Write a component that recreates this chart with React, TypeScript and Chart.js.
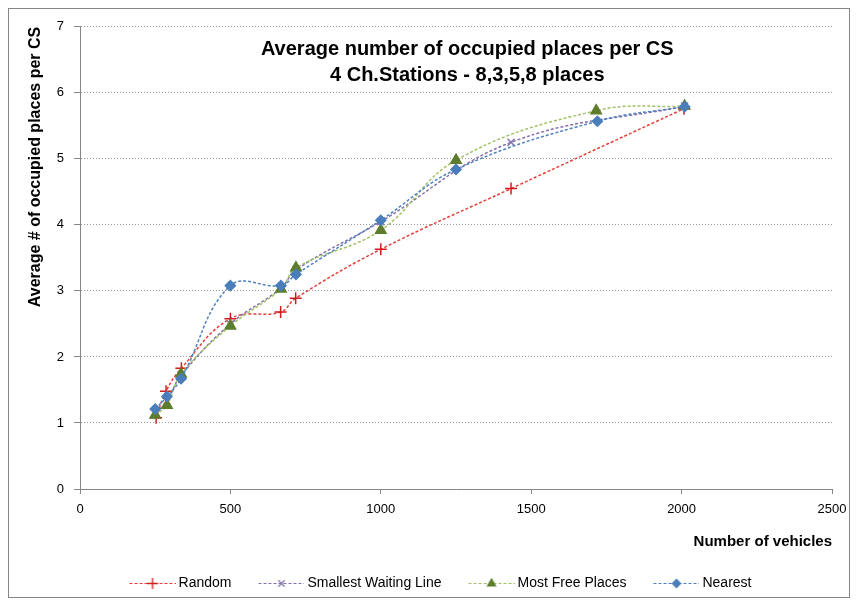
import React, { useEffect, useRef } from 'react';
import { Chart, registerables } from 'chart.js';
import { drawPoint } from 'chart.js/helpers';

Chart.register(...registerables);

// ---- data ----
const seriesNames = ['Random', 'Smallest Waiting Line', 'Most Free Places', 'Nearest'];

const randomX = [253, 286, 337, 500, 667, 717, 1000, 1433, 2008];
const randomY = [1.08, 1.48, 1.83, 2.58, 2.68, 2.89, 3.63, 4.55, 5.76];

const waitingX = [253, 289, 336, 500, 668, 718, 1000, 1433, 2010];
const waitingY = [1.15, 1.33, 1.72, 2.5, 3.04, 3.32, 4.05, 5.25, 5.8];

const freeX = [250, 289, 336, 500, 668, 718, 1000, 1250, 1716, 2010];
const freeY = [1.12, 1.27, 1.74, 2.47, 3.03, 3.35, 3.92, 4.98, 5.73, 5.8];

const nearestX = [250, 289, 336, 500, 668, 718, 1000, 1250, 1720, 2010];
const nearestY = [1.21, 1.4, 1.67, 3.08, 3.08, 3.25, 4.07, 4.84, 5.57, 5.79];

const xMin = 0;
const xMax = 2500;
const xStep = 500;
const yMin = 0;
const yMax = 7;
const yStep = 1;

const titleLines = ['Average number of occupied places per CS', '4 Ch.Stations - 8,3,5,8 places'];
const xTitle = 'Number of vehicles';
const yTitle = 'Average # of occupied places per CS';

const FONT = "'Liberation Sans', Arial, Helvetica, sans-serif";

const styles = [
  { line: '#e4403c', dash: [3, 2], marker: '#d01c1c', point: 'cross', radius: 6, legendRadius: 5.5 },
  { line: '#8570ac', dash: [3, 2], marker: '#8a78b0', point: 'crossRot', radius: 5, legendRadius: 4.5 },
  { line: '#a2c066', dash: [3, 2], marker: '#5d7d2c', point: 'triangle', radius: 6, legendRadius: 4.5 },
  { line: '#4f81bd', dash: [3, 2], marker: '#4a7ebb', point: 'rectRot', radius: 5, legendRadius: 4 },
];

const toPoints = (xs: number[], ys: number[]) => xs.map((x, i) => ({ x, y: ys[i] }));

function legendImage(idx: number): HTMLCanvasElement {
  const s = styles[idx];
  const c = document.createElement('canvas');
  c.width = 52;
  c.height = 14;
  const g = c.getContext('2d') as CanvasRenderingContext2D;
  g.strokeStyle = s.line;
  g.lineWidth = 1.2;
  g.setLineDash(s.dash);
  g.beginPath();
  g.moveTo(6, 7.5);
  g.lineTo(52, 7.5);
  g.stroke();
  g.setLineDash([]);
  g.strokeStyle = s.marker;
  g.fillStyle = s.marker;
  g.lineWidth = 1.3;
  drawPoint(g, { pointStyle: s.point as any, rotation: 0, radius: s.legendRadius, borderWidth: 1.3 } as any, 29, 7.5);
  return c;
}

const overlayTitle = {
  id: 'overlayTitle',
  afterDraw(chart: any) {
    const { ctx, chartArea } = chart;
    ctx.save();
    ctx.font = `bold 20px ${FONT}`;
    ctx.fillStyle = '#000';
    ctx.textAlign = 'center';
    ctx.textBaseline = 'alphabetic';
    const cx = chartArea.left + (chartArea.right - chartArea.left) * 0.515;
    ctx.fillText(titleLines[0], cx, chartArea.top + 28);
    ctx.fillText(titleLines[1], cx, chartArea.top + 54);
    ctx.restore();
  },
};

export default function App() {
  const ref = useRef<HTMLCanvasElement | null>(null);

  useEffect(() => {
    if (!ref.current) return;
    Chart.defaults.font.family = FONT;

    const data = [
      toPoints(randomX, randomY),
      toPoints(waitingX, waitingY),
      toPoints(freeX, freeY),
      toPoints(nearestX, nearestY),
    ];

    const datasets = data.map((d, i) => ({
      label: seriesNames[i],
      data: d,
      borderColor: styles[i].line,
      borderWidth: 1.5,
      borderDash: styles[i].dash,
      tension: 0.4,
      fill: false,
      pointStyle: styles[i].point,
      pointRadius: styles[i].radius,
      pointBorderColor: styles[i].marker,
      pointBackgroundColor: styles[i].marker,
      pointBorderWidth: 1.5,
      order: 4 - i,
    }));

    const legendItems = seriesNames.map((name, i) => ({
      text: name,
      pointStyle: legendImage(i),
      fillStyle: styles[i].marker,
      strokeStyle: styles[i].line,
      lineWidth: 0,
      hidden: false,
      datasetIndex: i,
      fontColor: '#000',
    }));

    const chart = new Chart(ref.current, {
      type: 'line',
      data: { datasets: datasets as any },
      plugins: [overlayTitle],
      options: {
        responsive: false,
        animation: false,
        layout: { padding: { left: 38, right: 17, top: 16, bottom: -3 } },
        plugins: {
          legend: {
            position: 'bottom',
            labels: {
              usePointStyle: true,
              pointStyleWidth: 44,
              padding: 25,
              color: '#000',
              font: { size: 14, family: FONT },
              generateLabels: () => legendItems as any,
            },
          },
          tooltip: { enabled: false },
          title: { display: false },
        },
        scales: {
          x: {
            type: 'linear',
            min: xMin,
            max: xMax,
            afterFit: (s: any) => {
              s.height = 62;
            },
            ticks: {
              stepSize: xStep,
              padding: 2,
              color: '#000',
              font: { size: 13, lineHeight: 2.1 },
              callback: (v: any) => String(v),
            },
            grid: { drawOnChartArea: false, drawTicks: true, tickLength: 5, tickColor: '#868686' },
            border: { color: '#868686', width: 1 },
            title: {
              display: true,
              text: xTitle,
              align: 'end',
              color: '#000',
              font: { size: 15, weight: 'bold' },
              padding: 0,
            },
          },
          y: {
            type: 'linear',
            min: yMin,
            max: yMax,
            afterFit: (s: any) => {
              s.width = 33;
            },
            ticks: {
              stepSize: yStep,
              padding: 10,
              color: '#000',
              font: { size: 13 },
              callback: (v: any) => String(v),
            },
            grid: {
              color: (c: any) => (c.tick && c.tick.value === 0 ? 'rgba(0,0,0,0)' : '#9a9a9a'),
              tickLength: 6,
              tickColor: '#868686',
              tickBorderDash: [],
            },
            border: { color: '#868686', width: 1, dash: [1, 2] },
            title: {
              display: true,
              text: yTitle,
              align: 'end',
              color: '#000',
              font: { size: 16, weight: 'bold' },
              padding: { top: -21, bottom: 0 },
            },
          },
        },
      } as any,
    });

    return () => chart.destroy();
  }, []);

  return (
    <div style={{ width: 840, height: 588, border: '1px solid #868686', background: '#fff' }}>
      <canvas ref={ref} width={840} height={588} style={{ display: 'block' }} />
    </div>
  );
}
